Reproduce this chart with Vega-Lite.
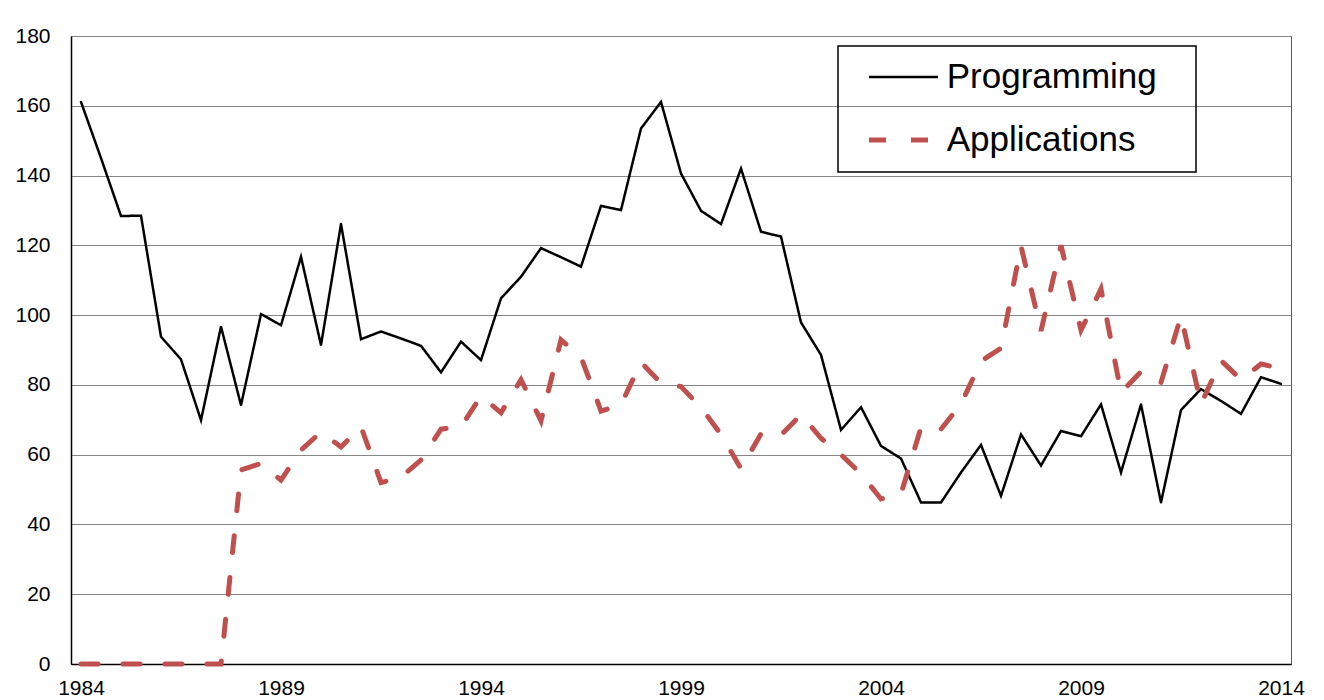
{
  "$schema": "https://vega.github.io/schema/vega-lite/v6.json",
  "autosize": {"type": "none"},
  "width": 1220,
  "height": 628,
  "padding": {"left": 71, "top": 36, "right": 33, "bottom": 36},
  "background": "white",
  "config": {
    "font": "Liberation Sans",
    "view": {"stroke": "#595959", "strokeWidth": 1},
    "axis": {"labelFont": "Liberation Sans", "labelColor": "black", "labelFontSize": 21, "title": null, "ticks": false, "tickSize": 0, "domainColor": "black", "domainWidth": 1.5, "labelFlush": false, "labelOverlap": false, "labelBound": false},
    "legend": {
      "labelFont": "Liberation Sans", "labelColor": "black", "labelFontSize": 35, "labelLimit": 0, "strokeWidth": 1.5,
      "orient": "none", "legendX": 767, "legendY": 10,
      "strokeColor": "black", "padding": 13.5,
      "symbolType": "M-3,0H3", "symbolSize": 529,
      "symbolOffset": 34.5, "labelOffset": 25.7, "rowPadding": 27,
      "titleOrient": "right", "titlePadding": 26, "titleFontSize": 10, "titleColor": "white"
    }
  },
  "data": {"values": [
    {"t": 1984.0, "s": "Programming", "v": 161.1},
    {"t": 1984.5, "s": "Programming", "v": 145},
    {"t": 1985.0, "s": "Programming", "v": 128.4},
    {"t": 1985.5, "s": "Programming", "v": 128.5},
    {"t": 1986.0, "s": "Programming", "v": 93.8},
    {"t": 1986.5, "s": "Programming", "v": 87.3},
    {"t": 1987.0, "s": "Programming", "v": 69.9},
    {"t": 1987.5, "s": "Programming", "v": 96.7},
    {"t": 1988.0, "s": "Programming", "v": 74.2},
    {"t": 1988.5, "s": "Programming", "v": 100.3},
    {"t": 1989.0, "s": "Programming", "v": 97.1},
    {"t": 1989.5, "s": "Programming", "v": 116.7},
    {"t": 1990.0, "s": "Programming", "v": 91.4},
    {"t": 1990.5, "s": "Programming", "v": 126.1},
    {"t": 1991.0, "s": "Programming", "v": 93.1},
    {"t": 1991.5, "s": "Programming", "v": 95.3},
    {"t": 1992.0, "s": "Programming", "v": 93.3},
    {"t": 1992.5, "s": "Programming", "v": 91.2},
    {"t": 1993.0, "s": "Programming", "v": 83.6},
    {"t": 1993.5, "s": "Programming", "v": 92.4},
    {"t": 1994.0, "s": "Programming", "v": 87.1},
    {"t": 1994.5, "s": "Programming", "v": 104.8},
    {"t": 1995.0, "s": "Programming", "v": 111.0},
    {"t": 1995.5, "s": "Programming", "v": 119.2},
    {"t": 1996.0, "s": "Programming", "v": 116.6},
    {"t": 1996.5, "s": "Programming", "v": 113.9},
    {"t": 1997.0, "s": "Programming", "v": 131.3},
    {"t": 1997.5, "s": "Programming", "v": 130.1},
    {"t": 1998.0, "s": "Programming", "v": 153.5},
    {"t": 1998.5, "s": "Programming", "v": 161.1},
    {"t": 1999.0, "s": "Programming", "v": 140.6},
    {"t": 1999.5, "s": "Programming", "v": 129.9},
    {"t": 2000.0, "s": "Programming", "v": 126.1},
    {"t": 2000.5, "s": "Programming", "v": 142.0},
    {"t": 2001.0, "s": "Programming", "v": 123.9},
    {"t": 2001.5, "s": "Programming", "v": 122.5},
    {"t": 2002.0, "s": "Programming", "v": 97.9},
    {"t": 2002.5, "s": "Programming", "v": 88.6},
    {"t": 2003.0, "s": "Programming", "v": 67.1},
    {"t": 2003.5, "s": "Programming", "v": 73.6},
    {"t": 2004.0, "s": "Programming", "v": 62.5},
    {"t": 2004.5, "s": "Programming", "v": 58.9},
    {"t": 2005.0, "s": "Programming", "v": 46.3},
    {"t": 2005.5, "s": "Programming", "v": 46.3},
    {"t": 2006.0, "s": "Programming", "v": 54.9},
    {"t": 2006.5, "s": "Programming", "v": 62.8},
    {"t": 2007.0, "s": "Programming", "v": 48.2},
    {"t": 2007.5, "s": "Programming", "v": 65.8},
    {"t": 2008.0, "s": "Programming", "v": 56.9},
    {"t": 2008.5, "s": "Programming", "v": 66.8},
    {"t": 2009.0, "s": "Programming", "v": 65.3},
    {"t": 2009.5, "s": "Programming", "v": 74.4},
    {"t": 2010.0, "s": "Programming", "v": 54.9},
    {"t": 2010.5, "s": "Programming", "v": 74.4},
    {"t": 2011.0, "s": "Programming", "v": 46.3},
    {"t": 2011.5, "s": "Programming", "v": 72.8},
    {"t": 2012.0, "s": "Programming", "v": 78.8},
    {"t": 2012.5, "s": "Programming", "v": 75.4},
    {"t": 2013.0, "s": "Programming", "v": 71.7},
    {"t": 2013.5, "s": "Programming", "v": 82.2},
    {"t": 2014.0, "s": "Programming", "v": 80.3},
    {"t": 1984.0, "s": "Applications", "v": 0},
    {"t": 1984.5, "s": "Applications", "v": 0},
    {"t": 1985.0, "s": "Applications", "v": 0},
    {"t": 1985.5, "s": "Applications", "v": 0},
    {"t": 1986.0, "s": "Applications", "v": 0},
    {"t": 1986.5, "s": "Applications", "v": 0},
    {"t": 1987.0, "s": "Applications", "v": 0},
    {"t": 1987.5, "s": "Applications", "v": 0},
    {"t": 1988.0, "s": "Applications", "v": 55.6},
    {"t": 1988.5, "s": "Applications", "v": 57.5},
    {"t": 1989.0, "s": "Applications", "v": 52.7},
    {"t": 1989.5, "s": "Applications", "v": 61.3},
    {"t": 1990.0, "s": "Applications", "v": 66.5},
    {"t": 1990.5, "s": "Applications", "v": 62.2},
    {"t": 1991.0, "s": "Applications", "v": 68},
    {"t": 1991.5, "s": "Applications", "v": 52},
    {"t": 1992.0, "s": "Applications", "v": 53.5},
    {"t": 1992.5, "s": "Applications", "v": 58.5},
    {"t": 1993.0, "s": "Applications", "v": 67.3},
    {"t": 1993.5, "s": "Applications", "v": 68},
    {"t": 1994.0, "s": "Applications", "v": 76.8},
    {"t": 1994.5, "s": "Applications", "v": 72},
    {"t": 1995.0, "s": "Applications", "v": 81.5},
    {"t": 1995.5, "s": "Applications", "v": 69.7},
    {"t": 1996.0, "s": "Applications", "v": 92.9},
    {"t": 1996.5, "s": "Applications", "v": 88},
    {"t": 1997.0, "s": "Applications", "v": 72.5},
    {"t": 1997.5, "s": "Applications", "v": 74.3},
    {"t": 1998.0, "s": "Applications", "v": 86.5},
    {"t": 1998.5, "s": "Applications", "v": 80.5},
    {"t": 1999.0, "s": "Applications", "v": 79.5},
    {"t": 1999.5, "s": "Applications", "v": 73.5},
    {"t": 2000.0, "s": "Applications", "v": 65.8},
    {"t": 2000.5, "s": "Applications", "v": 56},
    {"t": 2001.0, "s": "Applications", "v": 66},
    {"t": 2001.5, "s": "Applications", "v": 65.6},
    {"t": 2002.0, "s": "Applications", "v": 71.5},
    {"t": 2002.5, "s": "Applications", "v": 64.7},
    {"t": 2003.0, "s": "Applications", "v": 60},
    {"t": 2003.5, "s": "Applications", "v": 54.5},
    {"t": 2004.0, "s": "Applications", "v": 47.3},
    {"t": 2004.5, "s": "Applications", "v": 48.8},
    {"t": 2005.0, "s": "Applications", "v": 67.8},
    {"t": 2005.5, "s": "Applications", "v": 67.3},
    {"t": 2006.0, "s": "Applications", "v": 74.5},
    {"t": 2006.5, "s": "Applications", "v": 86.8},
    {"t": 2007.0, "s": "Applications", "v": 90.5},
    {"t": 2007.5, "s": "Applications", "v": 119.8},
    {"t": 2008.0, "s": "Applications", "v": 95.5},
    {"t": 2008.5, "s": "Applications", "v": 120},
    {"t": 2009.0, "s": "Applications", "v": 95.7},
    {"t": 2009.5, "s": "Applications", "v": 107.5},
    {"t": 2010.0, "s": "Applications", "v": 77.8},
    {"t": 2010.5, "s": "Applications", "v": 83.8},
    {"t": 2011.0, "s": "Applications", "v": 80.7},
    {"t": 2011.5, "s": "Applications", "v": 99.7},
    {"t": 2012.0, "s": "Applications", "v": 74.5},
    {"t": 2012.5, "s": "Applications", "v": 87},
    {"t": 2013.0, "s": "Applications", "v": 81.5},
    {"t": 2013.5, "s": "Applications", "v": 86},
    {"t": 2014.0, "s": "Applications", "v": 84.7}
  ]},
  "mark": {"type": "line", "strokeCap": "round", "strokeJoin": "miter", "clip": false},
  "encoding": {
    "x": {
      "field": "t", "type": "quantitative",
      "scale": {"domain": [1983.75, 2014.25], "nice": false, "zero": false},
      "axis": {"values": [1984, 1989, 1994, 1999, 2004, 2009, 2014], "format": "d", "grid": false, "labelPadding": 13}
    },
    "y": {
      "field": "v", "type": "quantitative",
      "scale": {"domain": [0, 180], "nice": false},
      "axis": {"values": [0, 20, 40, 60, 80, 100, 120, 140, 160, 180], "grid": true, "gridColor": "#868686", "gridWidth": 1, "labelPadding": 21}
    },
    "color": {
      "field": "s", "type": "nominal",
      "scale": {"domain": ["Programming", "Applications"], "range": ["#000000", "#C0504D"]},
      "legend": {"title": "\u00a0"}
    },
    "strokeDash": {
      "field": "s", "type": "nominal",
      "scale": {"domain": ["Programming", "Applications"], "range": [[1, 0], [17, 25]]},
      "legend": {"title": "\u00a0"}
    },
    "strokeWidth": {
      "field": "s", "type": "nominal",
      "scale": {"type": "ordinal", "domain": ["Programming", "Applications"], "range": [2.5, 5]},
      "legend": {"title": "\u00a0"}
    }
  }
}
